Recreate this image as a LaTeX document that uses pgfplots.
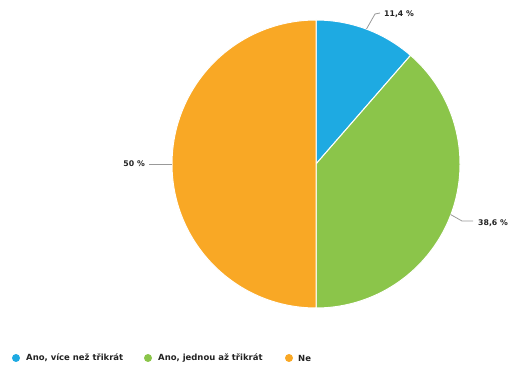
\documentclass[border=0pt]{standalone}
\usepackage{pgfplots}
\pgfplotsset{compat=1.18}
\usepackage{pgfplotstable}
\usepackage{fontspec}
\setmainfont{DejaVu Sans}
\definecolor{cblue}{HTML}{1EAAE2}
\definecolor{cgreen}{HTML}{8BC54A}
\definecolor{corange}{HTML}{F9A825}
\definecolor{ctext}{HTML}{222222}
\definecolor{cline}{HTML}{999999}
\pgfplotstableread{
value
11.4
38.6
50
}\piedata
\begin{document}
\begin{tikzpicture}
\pgfplotstablegetelem{0}{value}\of\piedata \let\va\pgfplotsretval
\pgfplotstablegetelem{1}{value}\of\piedata \let\vb\pgfplotsretval
\pgfplotstablegetelem{2}{value}\of\piedata \let\vc\pgfplotsretval
\pgfmathsetmacro{\aA}{90}
\pgfmathsetmacro{\aB}{\aA-3.6*\va}
\pgfmathsetmacro{\aC}{\aB-3.6*\vb}
\pgfmathsetmacro{\aD}{\aC-3.6*\vc}
\begin{axis}[
  scale only axis, width=512bp, height=367bp,
  xmin=0, xmax=512, ymin=0, ymax=367,
  hide axis, clip=false,
]
\path (axis cs:0,0) rectangle (axis cs:512,367);
\fill[cblue, draw=white, line width=1pt] (axis cs:316,203) -- ++(\aA:144bp) arc[start angle=\aA, end angle=\aB, radius=144bp] -- cycle;
\fill[cgreen, draw=white, line width=1pt] (axis cs:316,203) -- ++(\aB:144bp) arc[start angle=\aB, end angle=\aC, radius=144bp] -- cycle;
\fill[corange, draw=white, line width=1pt] (axis cs:316,203) -- ++(\aC:144bp) arc[start angle=\aC, end angle=\aD, radius=144bp] -- cycle;
% connectors
\draw[cline, line width=0.8pt] (axis cs:366.5,338) -- (axis cs:375,353) -- (axis cs:380,354);
\draw[cline, line width=0.8pt] (axis cs:450.5,152.5) -- (axis cs:462,146) -- (axis cs:473,146);
\draw[cline, line width=0.8pt] (axis cs:172,203) -- (axis cs:149,203);
% labels
\node[anchor=west, inner sep=0pt, text=ctext, font=\fontsize{7.8}{9}\selectfont\bfseries] at (axis cs:384,353) {11,4 \%};
\node[anchor=west, inner sep=0pt, text=ctext, font=\fontsize{7.8}{9}\selectfont\bfseries] at (axis cs:478,144) {38,6 \%};
\node[anchor=east, inner sep=0pt, text=ctext, font=\fontsize{7.8}{9}\selectfont\bfseries] at (axis cs:145,203) {50 \%};
% legend
\fill[cblue] (axis cs:16,9) circle (4bp);
\fill[cgreen] (axis cs:148,9) circle (4bp);
\fill[corange] (axis cs:289,9) circle (4bp);
\node[anchor=west, inner sep=0pt, text=ctext, font=\fontsize{8.5}{10}\selectfont\bfseries] at (axis cs:26,9) {Ano, více než třikrát};
\node[anchor=west, inner sep=0pt, text=ctext, font=\fontsize{8.5}{10}\selectfont\bfseries] at (axis cs:158,9) {Ano, jednou až třikrát};
\node[anchor=west, inner sep=0pt, text=ctext, font=\fontsize{8.5}{10}\selectfont\bfseries] at (axis cs:298,9) {Ne};
\end{axis}
\end{tikzpicture}
\end{document}
